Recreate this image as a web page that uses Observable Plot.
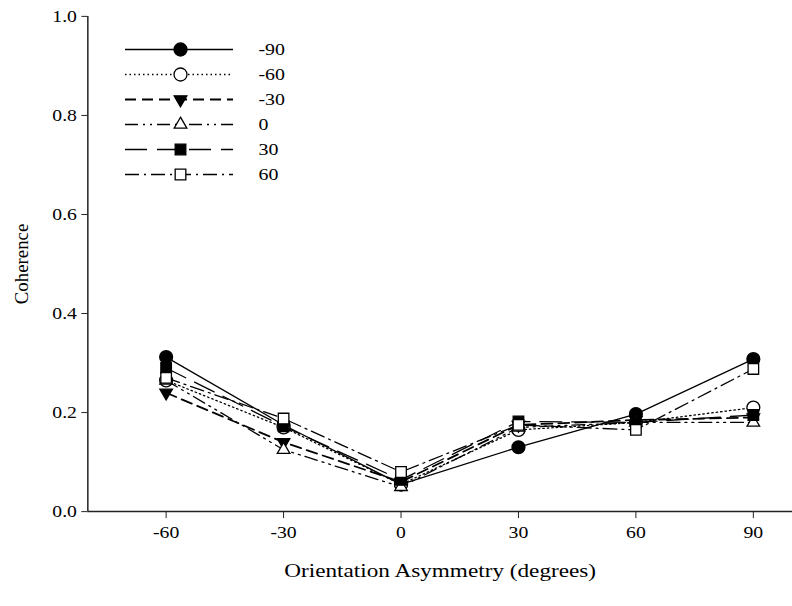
<!DOCTYPE html>
<html>
<head>
<meta charset="utf-8">
<script src="https://cdn.jsdelivr.net/npm/d3@7"></script>
<script src="https://cdn.jsdelivr.net/npm/@observablehq/plot@0.6"></script>
<style>
  html, body { margin: 0; padding: 0; background: #fff; overflow: hidden; }
  #wrap { position: relative; width: 792px; height: 606px; overflow: hidden; }
  #wrap svg { position: absolute; top: 0; left: 0; }
</style>
</head>
<body>
<div id="wrap"></div>
<script>
// ---- data ----
const angles = [-60, -30, 0, 30, 60, 90];
const seriesNames = ["-90", "-60", "-30", "0", "30", "60"];
const s_m90 = [0.312, 0.175, 0.055, 0.130, 0.197, 0.308];
const s_m60 = [0.265, 0.170, 0.055, 0.165, 0.180, 0.210];
const s_m30 = [0.240, 0.140, 0.060, 0.175, 0.185, 0.190];
const s_0   = [0.265, 0.125, 0.050, 0.170, 0.180, 0.180];
const s_30  = [0.290, 0.172, 0.064, 0.182, 0.180, 0.195];
const s_60  = [0.270, 0.188, 0.080, 0.175, 0.165, 0.288];
const seriesValues = [s_m90, s_m60, s_m30, s_0, s_30, s_60];
const yTicks = [0, 0.2, 0.4, 0.6, 0.8, 1.0];
const xLabel = "Orientation Asymmetry (degrees)";
const yLabel = "Coherence";

// styles per series
const styles = [
  {dash: null,            symbol: "circle",   fill: "black", rotate: 0,   width: 1.3, r: 6.5},
  {dash: "1.5,3",         symbol: "circle",   fill: "white", rotate: 0,   width: 1.3, r: 6.5},
  {dash: "11,6",          symbol: "triangle", fill: "black", rotate: 180, width: 1.8, r: 4.7},
  {dash: "13,5,2,5,2,5",  symbol: "triangle", fill: "white", rotate: 0,   width: 1.3, r: 4.7},
  {dash: "22,10",         symbol: "square",   fill: "black", rotate: 0,   width: 1.3, r: 6},
  {dash: "14,5,2,5",      symbol: "square",   fill: "white", rotate: 0,   width: 1.3, r: 6}
];

const rows = [];
seriesNames.forEach((name, i) => {
  angles.forEach((a, j) => rows.push({series: name, angle: a, value: seriesValues[i][j]}));
});

const serif = "'Liberation Serif', 'Times New Roman', serif";
const marks = [];
seriesNames.forEach((name, i) => {
  const st = styles[i];
  marks.push(Plot.line(rows.filter(d => d.series === name), {
    x: "angle", y: "value", stroke: "black", strokeWidth: st.width,
    strokeDasharray: st.dash || undefined
  }));
});
seriesNames.forEach((name, i) => {
  const st = styles[i];
  marks.push(Plot.dot(rows.filter(d => d.series === name), {
    x: "angle", y: "value", symbol: () => st.symbol, r: st.r,
    fill: st.fill, stroke: "black", strokeWidth: 1.3, rotate: st.rotate
  }));
});

const chart = Plot.plot({
  width: 798,
  height: 606,
  marginLeft: 88,
  marginRight: 0,
  marginTop: 16,
  marginBottom: 91,
  style: {fontFamily: serif, color: "#222", background: "transparent", overflow: "visible"},
  x: {domain: [-80, 100]},
  y: {domain: [0, 1]},
  marks: [
    Plot.axisX(angles, {tickSize: 7, tickPadding: 8, fontSize: 17, fill: "black", label: null, tickFormat: d => String(d)}),
    Plot.axisY(yTicks, {tickSize: 6, tickPadding: 5, fontSize: 17, fill: "black", label: null, tickFormat: d3.format(".1f")}),
    Plot.ruleX([-80], {stroke: "#222", strokeWidth: 1.5}),
    Plot.ruleY([0], {stroke: "#222", strokeWidth: 1.5}),
    Plot.text([yLabel], {text: d => d, frameAnchor: "left", textAnchor: "middle", dx: -66, rotate: -90, fontSize: 19, fill: "black"}),
    Plot.text([xLabel], {text: d => d, frameAnchor: "bottom", textAnchor: "middle", dy: 66, fontSize: 20, fill: "black"}),
    ...marks
  ]
});
document.getElementById("wrap").appendChild(chart);

// ---- legend overlay ----
const legendRows = seriesNames.map((name, i) => ({name, i, y: 49 + i * 25}));
const legMarks = [];
legendRows.forEach(r => {
  const st = styles[r.i];
  legMarks.push(Plot.ruleY([r], {y: "y", x1: 125, x2: 233, stroke: "black", strokeWidth: st.width,
    strokeDasharray: st.dash || undefined}));
  legMarks.push(Plot.dot([r], {x: () => 180, y: "y", symbol: () => st.symbol, r: st.r,
    fill: st.fill, stroke: "black", strokeWidth: 1.3, rotate: st.rotate}));
});
legMarks.push(Plot.text(legendRows, {x: () => 258, y: "y", text: "name", textAnchor: "start", fontSize: 17, fill: "black"}));

const legend = Plot.plot({
  width: 792, height: 606, margin: 0,
  style: {fontFamily: serif, background: "transparent"},
  x: {type: "identity", axis: null},
  y: {type: "identity", axis: null},
  marks: legMarks
});
document.getElementById("wrap").appendChild(legend);

// The reference type is horizontally widened; stretch horizontal text glyphs.
document.querySelectorAll("#wrap svg text").forEach(t => {
  if (t.textContent === yLabel) return;
  const w = t.getComputedTextLength();
  if (w > 0) {
    t.setAttribute("textLength", (w * 1.17).toFixed(1));
    t.setAttribute("lengthAdjust", "spacingAndGlyphs");
  }
});
</script>
</body>
</html>
